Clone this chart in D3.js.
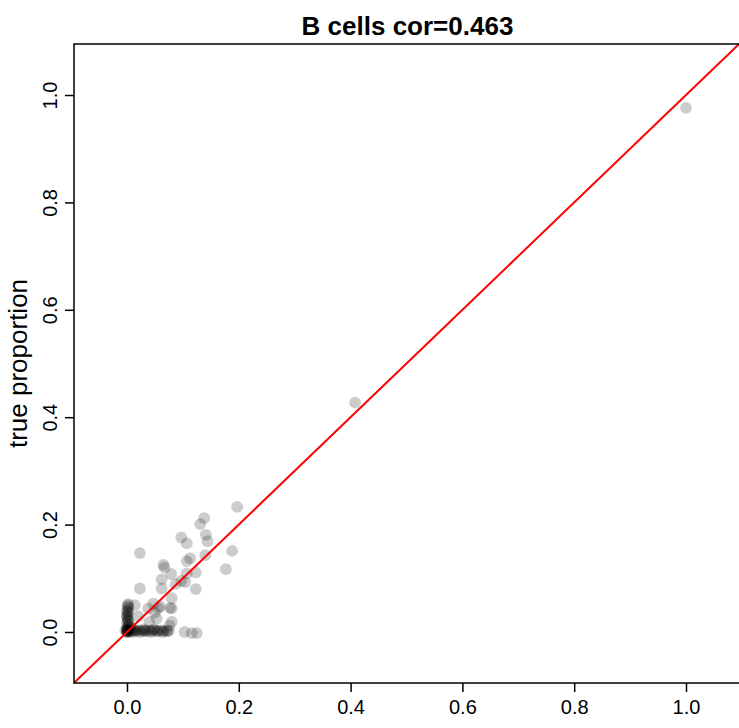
<!DOCTYPE html>
<html><head><meta charset="utf-8">
<script src="https://cdn.jsdelivr.net/npm/d3@7"></script>
<style>body{margin:0;background:#fff}svg{display:block}</style>
</head><body>
<script>
const title = "B cells cor=0.463";
const yLabel = "true proportion";
const xTicks = [0, 0.2, 0.4, 0.6, 0.8, 1.0];
const yTicks = [0, 0.2, 0.4, 0.6, 0.8, 1.0];
// estimated proportion (x) vs true proportion (y)
const estX = [0.197,0.138,0.131,0.141,0.144,0.097,0.107,0.023,0.188,0.140,0.113,0.107,0.065,0.067,0.177,0.079,0.123,0.107,0.062,0.097,0.104,0.087,0.023,0.062,0.123,
  0.047,0.059,0.080,0.020,0.053,0.080,0.040,0.076,0.014,0.038,0.056,0.077,0.080,0.050,
  0.002,0.001,0.003,0.000,0.002,0.001,0.000,0.002,0.001,0.000,0.003,0.001,0.000,0.002,0.001,0.000,0.002,0.004,0.006,
  0.000,0.000,0.001,0.002,0.000,0.001,0.003,0.000,
  -0.003,0.005,0.009,0.013,0.017,0.022,0.027,0.031,0.036,0.041,0.046,0.051,0.056,0.061,0.066,0.071,0.075,
  0.008,0.015,0.024,0.033,0.043,0.054,0.064,0.072,0.012,0.030,0.048,
  0.103,0.116,0.125,0.408,1.000];
const trueY = [0.233,0.212,0.201,0.181,0.169,0.176,0.165,0.147,0.151,0.143,0.137,0.132,0.125,0.120,0.117,0.108,0.111,0.109,0.098,0.095,0.093,0.089,0.081,0.081,0.080,
  0.053,0.047,0.044,0.029,0.025,0.019,0.019,0.012,0.050,0.044,0.045,0.045,0.063,0.036,
  0.052,0.047,0.044,0.040,0.036,0.032,0.028,0.024,0.020,0.016,0.012,0.009,0.006,0.050,0.038,0.030,0.022,0.014,0.008,
  0.001,0.000,0.002,0.000,0.003,0.001,0.002,0.004,
  0.003,0.003,0.002,0.003,0.002,0.003,0.002,0.003,0.002,0.003,0.002,0.003,0.002,0.003,0.002,0.003,0.002,
  0.000,0.001,0.000,0.001,0.000,0.001,0.000,0.001,0.005,0.005,0.005,
  0.000,-0.002,-0.002,0.427,0.976];

const W = 739, H = 728;
const svg = d3.select("body").append("svg").attr("width", W).attr("height", H);
const L = 74, R = 741, T = 44, B = 683;
const x = d3.scaleLinear().domain([-0.0948, 1.0984]).range([L, R]);
const y = d3.scaleLinear().domain([-0.0950, 1.0950]).range([B, T]);
const font = "'Liberation Sans', Arial, Helvetica, sans-serif";

svg.append("defs").append("clipPath").attr("id","clip")
  .append("rect").attr("x",L).attr("y",T).attr("width",R-L).attr("height",B-T);

const pts = estX.map((v,i)=>({x:v,y:trueY[i]}));
svg.append("g").selectAll("circle").data(pts).join("circle")
  .attr("cx",d=>x(d.x)).attr("cy",d=>y(d.y)).attr("r",5.9)
  .attr("fill","rgba(0,0,0,0.2)");

const lo = x.domain()[0], hi = x.domain()[1];
svg.append("line").attr("clip-path","url(#clip)")
  .attr("x1",x(lo-1)).attr("y1",y(lo-1)).attr("x2",x(hi+1)).attr("y2",y(hi+1))
  .attr("stroke","#ff0000").attr("stroke-width",2);

svg.append("rect").attr("x",L).attr("y",T).attr("width",R-L).attr("height",B-T)
  .attr("fill","none").attr("stroke","#000").attr("stroke-width",1.5);

const fmt = d3.format(".1f");
const xa = svg.append("g").attr("transform",`translate(0,${B})`)
  .call(d3.axisBottom(x).tickValues(xTicks).tickFormat(fmt).tickSize(9).tickPadding(8));
xa.select(".domain").remove();
xa.selectAll("line").attr("stroke-width",1.5);
xa.selectAll("text").attr("font-family",font).attr("font-size",20).attr("fill","#000");

const ya = svg.append("g").attr("transform",`translate(${L},0)`)
  .call(d3.axisLeft(y).tickValues(yTicks).tickFormat(fmt).tickSize(9));
ya.select(".domain").remove();
ya.selectAll("line").attr("stroke-width",1.5);
ya.selectAll("text").attr("font-family",font).attr("font-size",20).attr("fill","#000")
  .attr("text-anchor","middle").attr("dy",null).attr("x",null)
  .attr("transform","translate(-17,0) rotate(-90)");

svg.append("text").attr("x",(L+R)/2).attr("y",35).attr("text-anchor","middle")
  .attr("font-family",font).attr("font-weight","bold").attr("font-size",26).text(title);

svg.append("text").attr("transform",`translate(27,${(T+B)/2}) rotate(-90)`)
  .attr("text-anchor","middle").attr("font-family",font).attr("font-size",26).text(yLabel);
</script>
</body></html>
